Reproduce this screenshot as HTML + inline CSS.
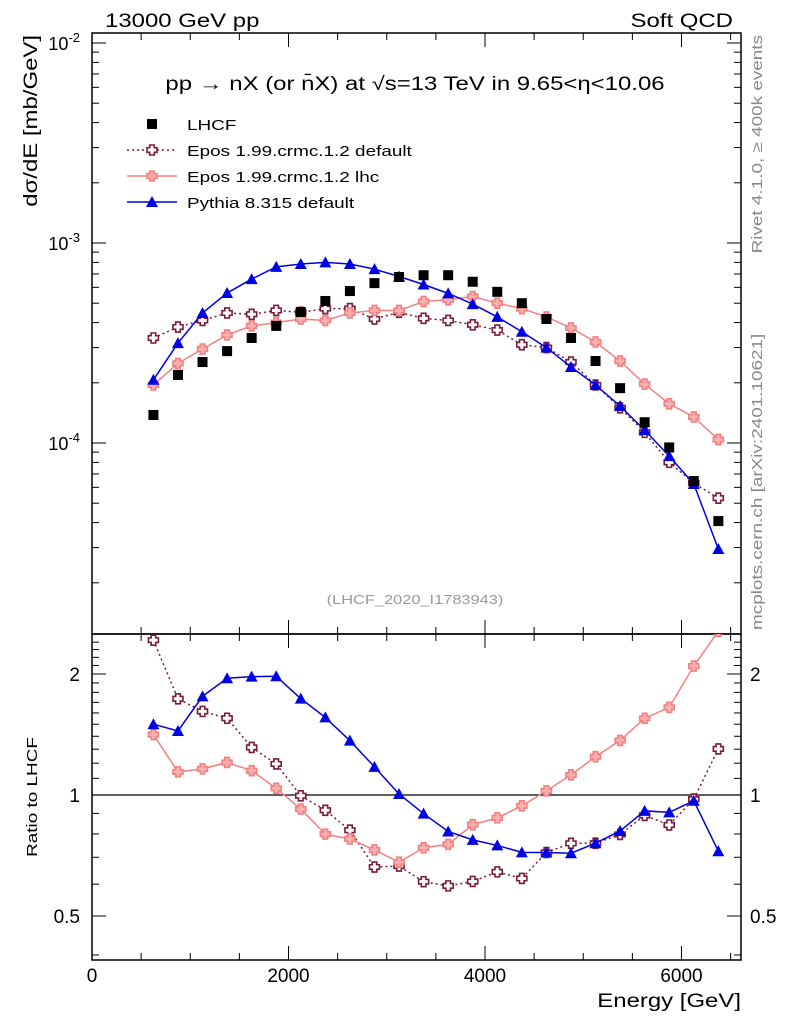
<!DOCTYPE html>
<html><head><meta charset="utf-8"><style>
body{margin:0;background:#fff;}
svg{display:block;font-family:"Liberation Sans",sans-serif;}
</style></head><body>
<svg id="c" width="786" height="1024" xmlns="http://www.w3.org/2000/svg">
<defs>
<clipPath id="cm"><rect x="92" y="33" width="649" height="601"/></clipPath>
<clipPath id="cr"><rect x="92" y="634" width="649" height="326"/></clipPath>
</defs>
<rect x="0" y="0" width="786" height="1024" fill="#fff"/>
<text class="w" x="105" y="27" font-size="19">13000 GeV pp</text>
<text class="w" x="733" y="27" font-size="19" text-anchor="end">Soft QCD</text>
<text class="w" transform="translate(762,35) rotate(-90)" font-size="15" fill="#888" text-anchor="end">Rivet 4.1.0, ≥ 400k events</text>
<text class="w" transform="translate(762,630) rotate(-90)" font-size="15" fill="#888">mcplots.cern.ch [arXiv:2401.10621]</text>
<text class="w" x="415" y="90" font-size="19" text-anchor="middle">pp → nX (or n̄X) at √s=13 TeV in 9.65&lt;η&lt;10.06</text>
<text class="w" x="415" y="604" font-size="13" fill="#999" text-anchor="middle">(LHCF_2020_I1783943)</text>
<text class="w" transform="translate(37,35) rotate(-90)" font-size="19" text-anchor="end">dσ/dE [mb/GeV]</text>
<text class="w" transform="translate(37,797) rotate(-90)" font-size="15" text-anchor="middle">Ratio to LHCF</text>
<text class="w" x="741" y="1007" font-size="19" text-anchor="end">Energy [GeV]</text>
<g id="g"></g>
</svg>
<script>
const energies=[625,875,1125,1375,1625,1875,2125,2375,2625,2875,3125,3375,3625,3875,4125,4375,4625,4875,5125,5375,5625,5875,6125,6375];
const lhcf=[1.38e-4,2.19e-4,2.54e-4,2.88e-4,3.35e-4,3.85e-4,4.52e-4,5.13e-4,5.75e-4,6.3e-4,6.76e-4,6.9e-4,6.9e-4,6.4e-4,5.7e-4,5.0e-4,4.17e-4,3.35e-4,2.57e-4,1.88e-4,1.27e-4,9.5e-5,6.45e-5,4.07e-5];
const eposDefault=[3.35e-4,3.8e-4,4.1e-4,4.47e-4,4.4e-4,4.6e-4,4.5e-4,4.7e-4,4.7e-4,4.17e-4,4.5e-4,4.2e-4,4.1e-4,3.9e-4,3.67e-4,3.1e-4,3.0e-4,2.54e-4,1.95e-4,1.5e-4,1.13e-4,8.0e-5,6.3e-5,5.3e-5];
const eposLhc=[1.95e-4,2.5e-4,2.95e-4,3.47e-4,3.85e-4,4.0e-4,4.17e-4,4.1e-4,4.47e-4,4.6e-4,4.6e-4,5.1e-4,5.2e-4,5.4e-4,5.0e-4,4.7e-4,4.27e-4,3.76e-4,3.2e-4,2.57e-4,1.97e-4,1.57e-4,1.35e-4,1.04e-4];
const pythia=[2.07e-4,3.16e-4,4.47e-4,5.62e-4,6.6e-4,7.6e-4,7.85e-4,8.0e-4,7.85e-4,7.4e-4,6.8e-4,6.2e-4,5.6e-4,4.95e-4,4.27e-4,3.6e-4,3.0e-4,2.4e-4,1.95e-4,1.53e-4,1.16e-4,8.6e-5,6.24e-5,2.95e-5];
const xTicks=[0,2000,4000,6000];
const ratioTicks=[0.5,1,2];

const NS="http://www.w3.org/2000/svg";
const g=document.getElementById('g');
function el(t,a,p){const e=document.createElementNS(NS,t);for(const k in a)e.setAttribute(k,a[k]);(p||g).appendChild(e);return e;}
const X=v=>92+v*0.09825;
const Y=v=>243-200*(Math.log10(v)+3);
const R=v=>795-402*Math.log10(v);
const L=92,Rt=741,T=33,M=634,B=960;

let f=el('rect',{x:L,y:T,width:Rt-L,height:M-T,fill:'none',stroke:'#000','stroke-width':1.5});


f=el('rect',{x:L,y:M,width:Rt-L,height:B-M,fill:'none',stroke:'#000','stroke-width':1.5});


for(let v=0;v<=6500;v+=500){const maj=v%2000===0,len=maj?14:7,x=X(v);
 for(const [y0,d] of [[T,1],[M,-1],[M,1],[B,-1]]) el('line',{x1:x,x2:x,y1:y0,y2:y0+d*len,stroke:'#000'});}
xTicks.forEach(v=>{const t=el('text',{x:X(v),y:982,'font-size':19,'text-anchor':'middle'});t.textContent=v;
 
 });
for(let d=-5;d<=-2;d++){for(let m=1;m<10;m++){const v=m*Math.pow(10,d),y=Y(v);if(y<T||y>M)continue;const len=m===1?14:7;
 el('line',{x1:L,x2:L+len,y1:y,y2:y,stroke:'#000'});el('line',{x1:Rt,x2:Rt-len,y1:y,y2:y,stroke:'#000'});}}
[-2,-3,-4].forEach(d=>{const t=el('text',{x:80,y:Y(Math.pow(10,d))+7,'font-size':18,'text-anchor':'end'});
 t.innerHTML='10<tspan dy="-8" font-size="13">'+d+'</tspan>';
 
 });
for(let v=0.4;v<=2.5;v+=0.1){const y=R(v);if(y<M||y>B)continue;const maj=[0.5,1,2].some(q=>Math.abs(q-v)<1e-6);const len=maj?14:7;
 el('line',{x1:L,x2:L+len,y1:y,y2:y,stroke:'#000'});el('line',{x1:Rt,x2:Rt-len,y1:y,y2:y,stroke:'#000'});}
ratioTicks.forEach(v=>{for(const [x,a] of [[80,'end'],[750,'start']]){const t=el('text',{x:x,y:R(v)+7,'font-size':19,'text-anchor':a});t.textContent=v;
 
 }});
el('line',{x1:L,x2:Rt,y1:R(1),y2:R(1),stroke:'#000','stroke-width':1.2});

function cross(p,x,y,fill,stroke){const s=5,w=2.3;
 const d=`M${x-w},${y-s}h${2*w}v${s-w}h${s-w}v${2*w}h${-(s-w)}v${s-w}h${-2*w}v${-(s-w)}h${-(s-w)}v${-2*w}h${s-w}z`;
 return el('path',{d:d,fill:fill,stroke:stroke,'stroke-width':1.6},p);}
function tri(p,x,y,c){return el('path',{d:`M${x},${y-6}L${x+6},${y+5}L${x-6},${y+5}z`,fill:c},p);}
const series=[
 {name:'epos-default',vals:eposDefault,c:'#7a1a3c',dash:'2,3',mk:'oc'},
 {name:'epos-lhc',vals:eposLhc,c:'#f48080',dash:null,mk:'fc'},
 {name:'pythia',vals:pythia,c:'#0000e6',dash:null,mk:'tri'}];
function draw(p,vals,yf,s){
 const pts=energies.map((e,i)=>X(e)+','+yf(vals[i])).join(' ');
 const a={points:pts,fill:'none',stroke:s.c,'stroke-width':1.5};if(s.dash)a['stroke-dasharray']=s.dash;
 const pl=el('polyline',a,p);
 
 
 energies.forEach((e,i)=>{const x=X(e),y=yf(vals[i]);let m;
  if(s.mk==='oc')m=cross(p,x,y,'#fff',s.c);else if(s.mk==='fc')m=cross(p,x,y,'#f8b0b0',s.c);else m=tri(p,x,y,s.c);
  
  });}
const gm=el('g',{'clip-path':'url(#cm)'});
const gr=el('g',{'clip-path':'url(#cr)'});
series.forEach(s=>{draw(gm,s.vals,Y,s);draw(gr,s.vals.map((v,i)=>v/lhcf[i]),R,s);});
energies.forEach((e,i)=>{const r=el('rect',{x:X(e)-5,y:Y(lhcf[i])-5,width:10,height:10,fill:'#000'},gm);
 
 });
const lg=el('g',{});


const ly=[124,150,176,202];
el('rect',{x:147,y:ly[0]-5,width:10,height:10,fill:'#000'},lg);
const labels=['LHCF','Epos 1.99.crmc.1.2 default','Epos 1.99.crmc.1.2 lhc','Pythia 8.315 default'];
series.forEach((s,i)=>{const y=ly[i+1];const a={x1:127,x2:177,y1:y,y2:y,stroke:s.c,'stroke-width':1.5};if(s.dash)a['stroke-dasharray']=s.dash;el('line',a,lg);
 if(s.mk==='oc')cross(lg,152,y,'#fff',s.c);else if(s.mk==='fc')cross(lg,152,y,'#f8b0b0',s.c);else tri(lg,152,y,s.c);});
labels.forEach((t,i)=>{const e=el('text',{x:187,y:ly[i]+6,'font-size':15,'class':'w'},lg);e.textContent=t;
 
 });
document.querySelectorAll('text.w').forEach(t=>{const w=t.getComputedTextLength();
 t.setAttribute('textLength',(w*1.26).toFixed(1));t.setAttribute('lengthAdjust','spacingAndGlyphs');});
</script>
</body></html>
